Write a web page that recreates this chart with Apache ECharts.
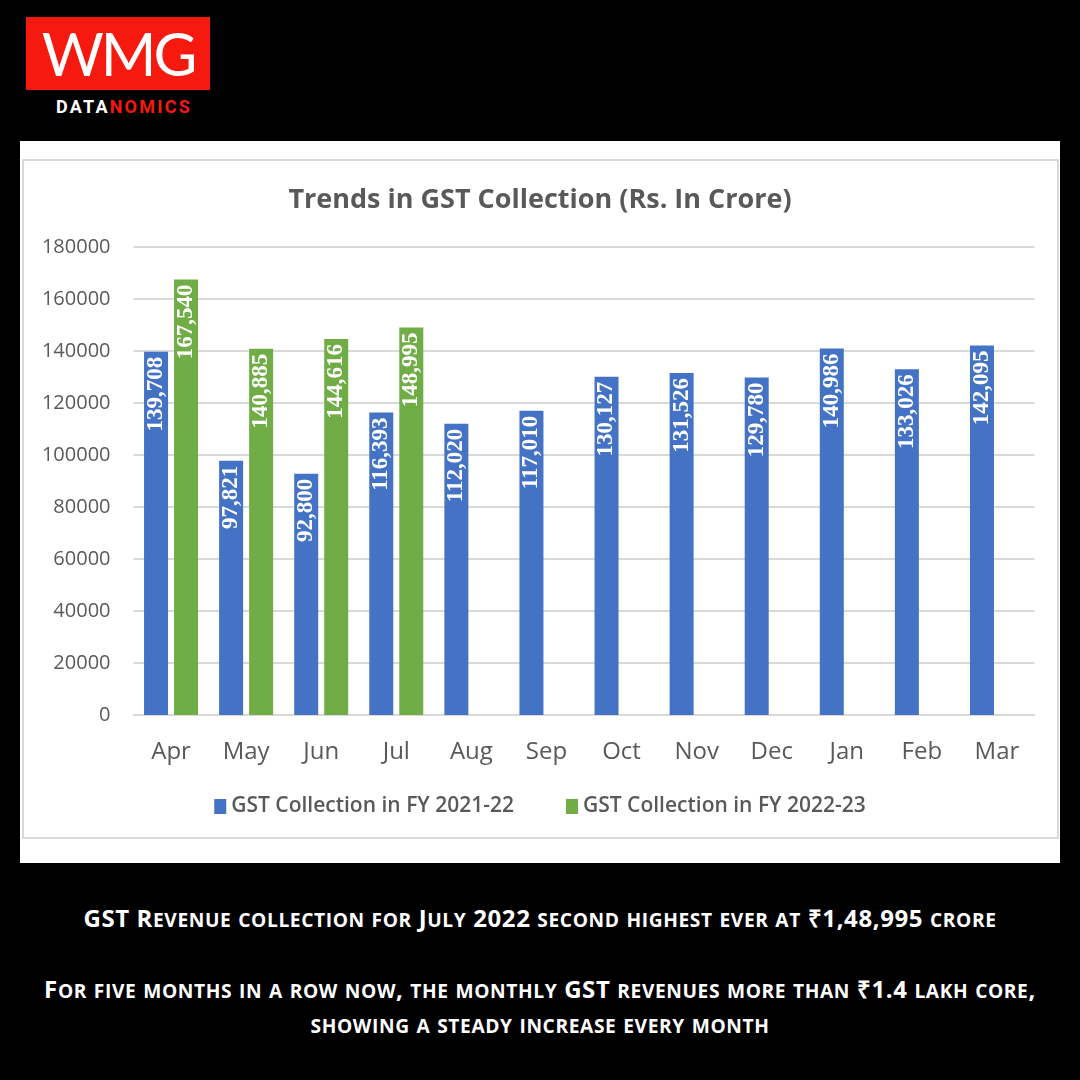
<!DOCTYPE html>
<html>
<head>
<meta charset="utf-8">
<script src="https://cdn.jsdelivr.net/npm/echarts@6/dist/echarts.min.js"></script>
<style>
  html, body { margin:0; padding:0; background:#000; }
  #page { position:relative; width:1080px; height:1080px; background:#000; overflow:hidden; }
  #logo { position:absolute; left:26px; top:17px; width:184px; height:73px; background:#f5190f;
          color:#fff; font-family:"Lato","Liberation Sans",sans-serif; font-weight:400;
          font-size:60px; line-height:73px; text-align:center; letter-spacing:-3px; }
  #brand { position:absolute; left:32px; top:96px; width:184px; text-align:center;
           font-family:"Roboto","Liberation Sans",sans-serif; font-weight:700; font-size:18px;
           letter-spacing:2.2px; color:#fff; }
  #brand span { color:#f5190f; }
  #chart { position:absolute; left:20px; top:141px; width:1040px; height:722px; background:#fff; }
  .note { position:absolute; left:0; width:1080px; text-align:center; color:#fff;
          font-family:"Open Sans","Liberation Sans",sans-serif; font-weight:700;
          font-size:24px; letter-spacing:0.6px; }
  .note .sc { font-size:0.8em; text-transform:uppercase; }
</style>
</head>
<body>
<div id="page">
  <div id="logo">WMG</div>
  <div id="brand">DATA<span>NOMICS</span></div>
  <div id="chart"></div>
  <div class="note" style="top:901px;">GST Revenue collection for July 2022 second highest ever at ₹1,48,995 crore</div>
  <div class="note" style="top:972px;">For five months in a row now, the monthly GST revenues more than ₹1.4 lakh core,</div>
  <div class="note" style="top:1007px;">showing a steady increase every month</div>
</div>
<script>
'use strict';
var months = ['Apr','May','Jun','Jul','Aug','Sep','Oct','Nov','Dec','Jan','Feb','Mar'];
var fy2122 = [139708, 97821, 92800, 116393, 112020, 117010, 130127, 131526, 129780, 140986, 133026, 142095];
var fy2223 = [167540, 140885, 144616, 148995, null, null, null, null, null, null, null, null];
var seriesNames = ['GST Collection in FY 2021-22', 'GST Collection in FY 2022-23'];
var yTicks = { min: 0, max: 180000, interval: 20000 };

var textGrey = '#595959';
var gridGrey = '#d9d9d9';

// small caps for the notes: lowercase letters go into smaller spans
document.querySelectorAll('.note').forEach(function (el) {
  var txt = el.textContent;
  el.innerHTML = txt.replace(/[a-z]+/g, function (m) { return '<span class="sc">' + m + '</span>'; });
});

// 数据标签，竖排在柱子顶端
var barLabel = {
  show: true,
  position: 'insideTop',
  rotate: 90,
  align: 'right',
  verticalAlign: 'middle',
  distance: 5,
  color: '#fff',
  fontFamily: '"Liberation Serif", "DejaVu Serif", serif',
  fontWeight: 'bold',
  fontSize: 23,
  formatter: function (p) { return p.value == null ? '' : Number(p.value).toLocaleString('en-US'); }
};

var option = {
  animation: false,
  backgroundColor: '#fff',
  title: {
    text: 'Trends in GST Collection (Rs. In Crore)',
    left: 'center',
    top: 41,
    textStyle: { color: textGrey, fontFamily: '"Open Sans", sans-serif', fontWeight: 'bold', fontSize: 27 }
  },
  legend: {
    data: seriesNames,
    top: 650,
    left: 'center',
    itemWidth: 12,
    itemHeight: 15,
    itemGap: 52,
    icon: 'rect',
    textStyle: { color: textGrey, fontFamily: '"Open Sans", sans-serif', fontWeight: 600, fontSize: 21 }
  },
  grid: { left: 113.5, right: 25.5, top: 106, bottom: 148, containLabel: false },
  xAxis: {
    type: 'category',
    data: months,
    axisLine: { lineStyle: { color: gridGrey, width: 2 } },
    axisTick: { show: false },
    axisLabel: { color: textGrey, fontFamily: '"Open Sans", sans-serif', fontSize: 24, margin: 25 }
  },
  yAxis: {
    type: 'value',
    min: yTicks.min,
    max: yTicks.max,
    interval: yTicks.interval,
    axisLine: { show: false },
    axisTick: { show: false },
    splitLine: { lineStyle: { color: gridGrey, width: 2 } },
    axisLabel: {
      color: textGrey, fontFamily: '"Open Sans", sans-serif', fontSize: 20, margin: 23,
      formatter: function (v) { return String(v); }
    }
  },
  series: [
    {
      name: seriesNames[0],
      type: 'bar',
      data: fy2122,
      barWidth: 24,
      barGap: '25%',
      itemStyle: { color: '#4472c4' },
      label: barLabel
    },
    {
      name: seriesNames[1],
      type: 'bar',
      data: fy2223,
      barWidth: 24,
      itemStyle: { color: '#70ad47' },
      label: barLabel
    }
  ],
  graphic: [
    {
      type: 'rect',
      shape: { x: 3, y: 19, width: 1035, height: 678 },
      style: { fill: null, stroke: gridGrey, lineWidth: 2 },
      silent: true
    }
  ]
};

var myChart = echarts.init(document.getElementById('chart'));
myChart.setOption(option);
</script>
</body>
</html>
